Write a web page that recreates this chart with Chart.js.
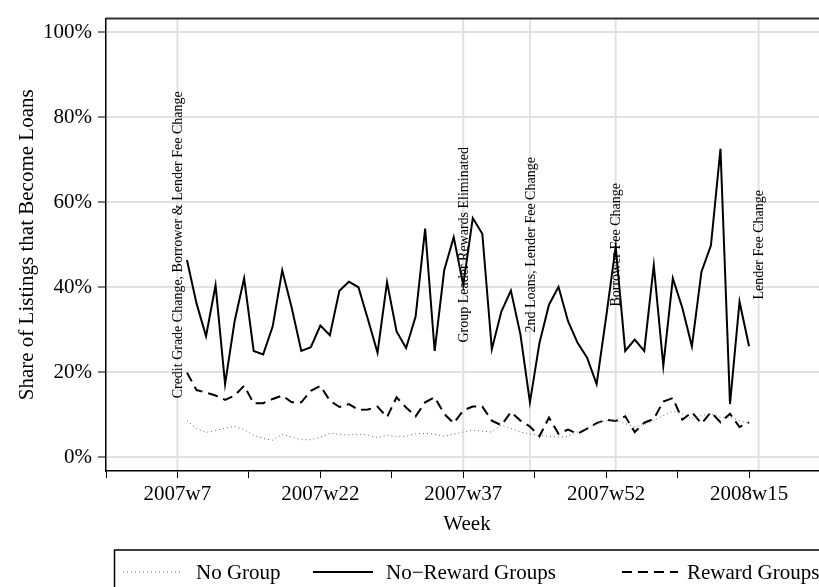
<!DOCTYPE html>
<html>
<head>
<meta charset="utf-8">
<title>Share of Listings that Become Loans</title>
<script src="https://cdn.jsdelivr.net/npm/chart.js@4.4.1/dist/chart.umd.min.js"></script>
<style>
  html, body { margin: 0; padding: 0; background: #fff; overflow: hidden; }
  #wrap { width: 819px; height: 587px; overflow: hidden; }
  canvas { display: block; }
</style>
</head>
<body>
<div id="wrap"><canvas id="chart" width="840" height="600"></canvas></div>
<script>
// week index: 1..52 = 2007w1..2007w52, 53.. = 2008w1..
var weeks = [8, 9, 10, 11, 12, 13, 14, 15, 16, 17, 18, 19, 20, 21, 22, 23, 24, 25, 26, 27,
  28, 29, 30, 31, 32, 33, 34, 35, 36, 37, 38, 39, 40, 41, 42, 43, 44, 45, 46, 47,
  48, 49, 50, 51, 52, 53, 54, 55, 56, 57, 58, 59, 60, 61, 62, 63, 64, 65, 66, 67];

var noGroup = [8.6, 6.7, 5.8, 6.3, 6.8, 7.2, 6.5, 5.1, 4.4, 4.0, 5.4, 4.7, 4.1, 4.1, 4.7, 5.6, 5.4, 5.2, 5.4, 5.2,
  4.6, 5.2, 4.8, 4.9, 5.5, 5.6, 5.4, 4.9, 5.4, 5.9, 6.3, 6.1, 5.9, 7.6, 6.7, 5.9, 5.5, 5.1, 4.9, 4.7,
  4.9, 5.9, 6.7, 7.9, 8.6, 8.6, 7.9, 7.1, 7.7, 8.6, 9.8, 10.8, 10.2, 9.0, 9.8, 10.2, 9.4, 9.4, 8.6, 8.0];

var noRewardGroups = [46.4, 36.2, 28.5, 40.5, 17.2, 32.0, 42.1, 25.0, 24.2, 30.8, 44.0, 35.1, 25.0, 25.9, 31.0, 28.7, 39.2, 41.3, 40.0, 32.4,
  24.6, 41.2, 29.6, 25.7, 33.1, 53.8, 25.0, 44.0, 51.8, 40.5, 56.3, 52.6, 25.4, 34.3, 39.2, 28.9, 12.9, 26.9, 35.9, 40.1,
  32.0, 26.9, 23.4, 17.2, 33.0, 49.5, 25.0, 27.7, 25.0, 45.2, 21.5, 42.1, 35.1, 26.1, 43.6, 49.9, 72.6, 12.5, 36.6, 26.1];

var rewardGroups = [19.9, 15.8, 15.2, 14.5, 13.5, 14.5, 16.8, 12.7, 12.7, 13.7, 14.5, 12.9, 12.9, 15.6, 16.8, 13.3, 11.8, 12.5, 11.1, 11.2,
  11.9, 9.4, 14.1, 11.7, 9.6, 12.9, 14.1, 10.2, 8.0, 11.0, 11.9, 11.9, 8.6, 7.5, 10.6, 8.6, 7.2, 4.9, 9.3, 5.5,
  6.5, 5.5, 6.7, 8.0, 8.8, 8.5, 9.6, 5.9, 8.1, 9.0, 13.1, 13.9, 8.8, 10.6, 7.9, 10.6, 8.2, 10.2, 7.1, 8.2];

var tickWeeks = [7, 22, 37, 52, 67];
var tickLabels = ["2007w7", "2007w22", "2007w37", "2007w52", "2008w15"];
var minorTickWeeks = [-0.5, 14.5, 29.5, 44.5, 59.5, 74.5];
var yTicks = [0, 20, 40, 60, 80, 100];

var eventWeeks = [7, 37, 44, 53, 68];
var eventLabels = [
  "Credit Grade Change, Borrower & Lender Fee Change",
  "Group Leader Rewards Eliminated",
  "2nd Loans, Lender Fee Change",
  "Borrower Fee Change",
  "Lender Fee Change"
];

(function () {
  "use strict";

  var SERIF = "'Liberation Serif', 'DejaVu Serif', serif";
  var lightGray = "#e1e1e1";

  function pts(vals) {
    return weeks.map(function (w, i) { return { x: w, y: vals[i] }; });
  }

  var notesPlugin = {
    id: "notes",
    beforeDatasetsDraw: function (chart) {
      var ctx = chart.ctx, area = chart.chartArea, xs = chart.scales.x;
      ctx.save();
      ctx.strokeStyle = lightGray;
      ctx.lineWidth = 2;
      eventWeeks.forEach(function (w) {
        var px = xs.getPixelForValue(w);
        ctx.beginPath();
        ctx.moveTo(px, area.top);
        ctx.lineTo(px, area.bottom - 1);
        ctx.stroke();
      });
      ctx.restore();
    },
    afterDatasetsDraw: function (chart) {
      var ctx = chart.ctx, xs = chart.scales.x, ys = chart.scales.y;
      var cy = ys.getPixelForValue(50);
      ctx.save();
      ctx.fillStyle = "#000";
      ctx.font = "14px " + SERIF;
      ctx.textAlign = "center";
      ctx.textBaseline = "middle";
      eventWeeks.forEach(function (w, i) {
        ctx.save();
        ctx.translate(xs.getPixelForValue(w) + 1, cy);
        ctx.rotate(-Math.PI / 2);
        ctx.fillText(eventLabels[i], 0, 0);
        ctx.restore();
      });
      ctx.restore();
    },
    afterDraw: function (chart) {
      var ctx = chart.ctx, area = chart.chartArea;
      ctx.save();
      // top frame
      ctx.strokeStyle = "#333";
      ctx.lineWidth = 2;
      ctx.beginPath();
      ctx.moveTo(area.left, area.top);
      ctx.lineTo(area.right + 5, area.top);
      ctx.stroke();

      // axis titles
      ctx.fillStyle = "#000";
      ctx.font = "21px " + SERIF;
      ctx.textAlign = "center";
      ctx.textBaseline = "middle";
      ctx.fillText("Week", 467, 524);
      ctx.save();
      ctx.translate(27, (area.top + area.bottom) / 2);
      ctx.rotate(-Math.PI / 2);
      ctx.fillText("Share of Listings that Become Loans", 0, 0);
      ctx.restore();

      // legend box (runs off the right and bottom edges, as in the original)
      ctx.strokeStyle = "#000";
      ctx.lineWidth = 1.5;
      ctx.strokeRect(114.5, 550, 760, 80);

      var items = [
        { x0: 123, x1: 180, tx: 196 },
        { x0: 313, x1: 373, tx: 386 },
        { x0: 622, x1: 678, tx: 687 }
      ];
      var ly = 572;
      chart.data.datasets.forEach(function (ds, i) {
        var it = items[i];
        ctx.save();
        ctx.strokeStyle = ds.borderColor;
        ctx.lineWidth = ds.borderWidth;
        ctx.setLineDash(ds.borderDash || []);
        ctx.beginPath();
        ctx.moveTo(it.x0, ly);
        ctx.lineTo(it.x1, ly);
        ctx.stroke();
        ctx.restore();
        ctx.fillStyle = "#000";
        ctx.font = "21px " + SERIF;
        ctx.textAlign = "left";
        ctx.textBaseline = "middle";
        ctx.fillText(ds.label, it.tx, ly + 1);
      });
      ctx.restore();
    }
  };

  new Chart(document.getElementById("chart"), {
    type: "line",
    data: {
      datasets: [
        {
          label: "No Group",
          data: pts(noGroup),
          borderColor: "#666",
          borderWidth: 1,
          borderDash: [1, 3]
        },
        {
          label: "No\u2212Reward Groups",
          data: pts(noRewardGroups),
          borderColor: "#000",
          borderWidth: 2
        },
        {
          label: "Reward Groups",
          data: pts(rewardGroups),
          borderColor: "#000",
          borderWidth: 2,
          borderDash: [10, 6]
        }
      ]
    },
    options: {
      responsive: false,
      animation: false,
      layout: { padding: { left: 0, top: 15, right: 19.5, bottom: 89 } },
      elements: {
        point: { radius: 0, hoverRadius: 0 },
        line: { tension: 0, borderJoinStyle: "miter" }
      },
      plugins: {
        legend: { display: false },
        tooltip: { enabled: false }
      },
      scales: {
        x: {
          type: "linear",
          min: -0.5,
          max: 74.5,
          afterBuildTicks: function (s) {
            s.ticks = tickWeeks.concat(minorTickWeeks)
              .sort(function (a, b) { return a - b; })
              .map(function (v) { return { value: v }; });
          },
          afterFit: function (s) { s.height = 40; },
          grid: { display: true, drawOnChartArea: false, tickLength: 7, tickColor: "#000", tickWidth: 1 },
          border: { color: "#000", width: 1.5 },
          ticks: {
            autoSkip: false,
            maxRotation: 0,
            padding: 4,
            color: "#000",
            font: { family: SERIF, size: 21 },
            callback: function (v) {
              var i = tickWeeks.indexOf(v);
              return i >= 0 ? tickLabels[i] : "";
            }
          }
        },
        y: {
          min: -3.27,
          max: 103.27,
          afterBuildTicks: function (s) {
            s.ticks = yTicks.map(function (v) { return { value: v }; });
          },
          afterFit: function (s) { s.width = 106; },
          grid: { color: lightGray, lineWidth: 2, tickLength: 8, tickColor: "#000", tickWidth: 1 },
          border: { color: "#000", width: 1.5 },
          ticks: {
            padding: 6,
            color: "#000",
            font: { family: SERIF, size: 21 },
            callback: function (v) { return v + "%"; }
          }
        }
      }
    },
    plugins: [notesPlugin]
  });
})();
</script>
</body>
</html>
